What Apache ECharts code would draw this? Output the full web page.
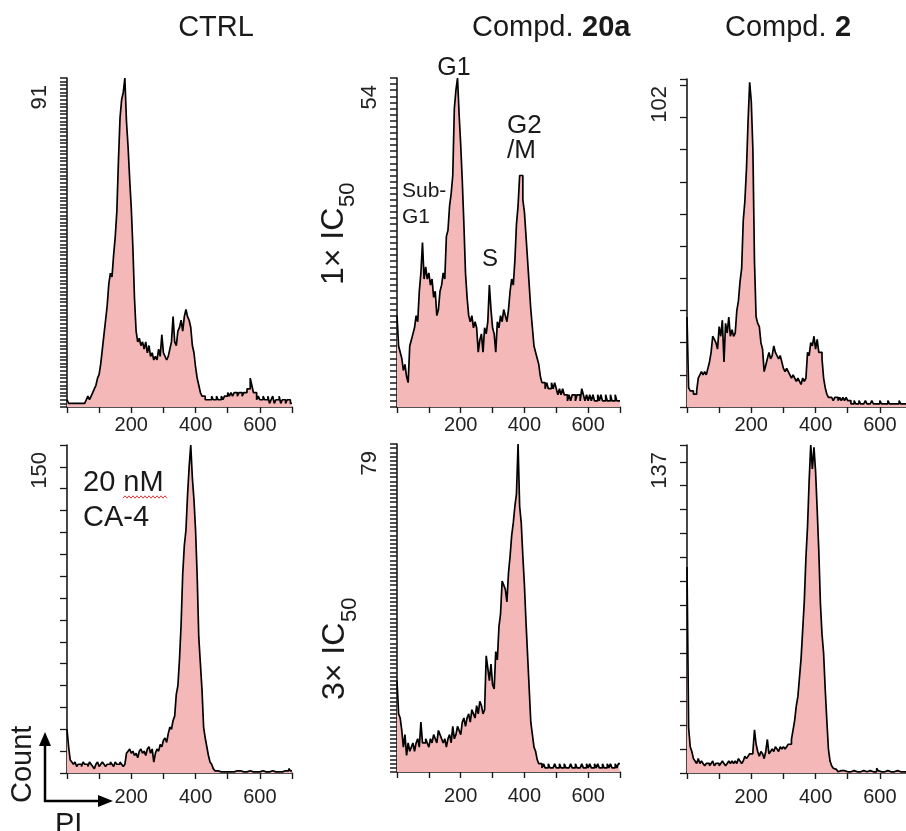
<!DOCTYPE html>
<html><head><meta charset="utf-8">
<script src="https://cdn.jsdelivr.net/npm/echarts@6/dist/echarts.min.js"></script>
<style>html,body{margin:0;padding:0;background:#fff}#c{width:906px;height:831px}</style>
</head><body><div id="c"></div>
<script>
// ---- data: PI histogram counts, 5-unit bins from 0 to 700 ----
const binWidth = 5;
const xMax = 700;
const xTickLabels = [200, 400, 600];

const ctrlCounts = [
2,1,1,0.5,1,0.5,1,0.5,1,0.5,1,1,2,3,2,3,4,5,6,8,
9,12,16,20,24,28,34,37,36,42,47,54,68,80,85,87,91,79,72,63,
55,44,30,21,18,19,17,18,16,18,15,17,14,15,13,14,13,16,14,20,
15,14,13,14,16,18,25,18,17,21,22,24,21,25,27,25,24,22,17,15,
11,8,6,4,3,3,2,2,2,2,3,2,2,3,2,2,3,2,3,3,
4,3,4,3,4,4,3,4,4,3,4,4,5,5,8,6,4,4,2,3,
2,2,3,2,2,3,1,2,3,1,2,2,3,1,2,2,1,2,2,1];

const c20a1xCounts = [
15,10,9,8,6,7,5,4,10,11,12,13,15,14,19,22,27,21,23,21,
22,20,21,18,19,15,16,19,20,22,21,28,29,33,35,38,49,52,54,48,
43,37,30,22,18,15,14,15,13,14,13,9,11,12,9,13,12,14,20,16,
13,12,9,14,13,15,14,16,15,14,16,19,21,20,24,30,33,38,38,34,
32,28,24,20,16,13,10,9,8,7,5,4,4,3,4,3,3,4,3,4,
3,2,3,2,3,2,2,1,2,1,2,2,1,2,2,1,3,2,1,2,
1,2,1,2,1,1,2,1,2,1,1,2,1,1,2,1,1,2,1,1];

const c2_1xCounts = [
28,6,5,5,4,4,5,9,10,11,10,11,10,12,14,17,22,21,20,18,
25,22,27,14,26,23,28,22,24,22,23,30,33,39,43,58,64,74,89,101,
95,80,45,28,26,25,20,18,11,13,15,17,15,16,19,17,16,15,16,14,
12,11,12,11,10,9,10,9,8,9,8,7,9,8,9,17,16,20,19,22,
18,21,17,17,15,9,6,4,3,3,3,2,3,3,2,3,2,3,2,3,
2,2,1,1,2,1,1,2,1,1,1,2,1,1,1,2,1,1,1,1,
2,1,1,1,1,2,1,1,1,1,1,1,2,1,1,1,1,1,1,1];

const ca4Counts = [
20,12,6,5,4,5,3,4,4,3,5,4,4,3,5,4,3,2,4,5,
3,4,5,4,3,4,4,5,4,3,5,4,4,5,4,3,4,9,10,11,
9,10,8,9,7,10,11,9,10,8,11,12,9,11,5,9,11,10,13,12,
15,16,14,18,21,20,24,26,36,40,52,68,91,104,111,127,140,150,135,125,
111,90,62,50,38,21,16,12,8,5,4,2,1,1,1,0.5,1,0.5,1,0.5,
1,0.5,1,0.5,0.5,1,0.5,1,0.5,0.5,1,0.5,0.5,1,0.5,0.5,1,0.5,1,0.5,
0.5,1,0.5,0.5,1,0.5,0.5,1,0.5,0.5,1,0.5,1,0.5,0.5,1,0.5,1,2,1];

const c20a3xCounts = [
22,14,13,10,6,9,4,7,5,6,7,5,7,8,6,12,7,7,8,7,
6,8,7,9,8,7,10,9,8,7,8,6,8,9,7,11,8,9,11,10,
9,12,13,11,13,14,12,15,14,13,16,14,17,16,14,15,28,25,22,26,
21,20,29,27,35,38,46,45,44,41,48,52,57,60,64,67,79,64,60,52,
45,36,28,20,12,9,6,5,3,2,2,1,2,1,1,2,1,1,1,2,
1,1,2,1,1,2,1,1,1,2,1,1,2,1,1,1,2,1,1,2,
1,2,1,1,2,1,2,1,1,2,1,1,2,1,2,1,1,2,1,2];

const c2_3xCounts = [
86,19,11,9,6,5,4,6,4,5,4,3,4,4,3,4,5,3,4,4,
3,4,5,4,3,4,5,4,5,4,5,4,6,5,4,5,7,6,7,8,
8,9,18,12,9,7,9,8,6,9,14,8,9,10,9,11,10,9,11,10,
11,10,11,12,12,14,18,22,28,32,40,48,60,72,90,103,122,137,127,136,
126,110,93,71,58,50,35,22,10,5,3,2,1.5,1,0.5,1,0.5,1,0.5,0.5,
1,0.5,0.5,1,0.5,0.5,1,0.5,0.5,1,0.5,0.5,0.5,1,0.5,0.5,1,0.5,2,1,
0.5,1,0.5,0.5,1,0.5,0.5,1,0.5,0.5,1,0.5,0.5,1,0.5,1,0.5,0.5,1,0.5];

const yMaxValues = [91, 54, 102, 150, 79, 137];
const yTickSteps = [1, 1, 10, 10, 1, 10];

// ---- layout ----
const FONT = "'Liberation Sans', Arial, Helvetica, sans-serif";
const INK = '#1a1a1a';
const panels = [
  {counts: ctrlCounts,   grid: {left: 67,  top: 78,  width: 225, height: 329}, margin: 8},
  {counts: c20a1xCounts, grid: {left: 397, top: 78,  width: 223, height: 329}, margin: 8},
  {counts: c2_1xCounts,  grid: {left: 687, top: 79,  width: 225, height: 328}, margin: 8},
  {counts: ca4Counts,    grid: {left: 67,  top: 445, width: 225, height: 328}, margin: 14},
  {counts: c20a3xCounts, grid: {left: 397, top: 444, width: 223, height: 328}, margin: 14},
  {counts: c2_3xCounts,  grid: {left: 687, top: 445, width: 225, height: 328}, margin: 14}
];

const option = {animation: false, backgroundColor: '#fff', grid: [], xAxis: [], yAxis: [], series: []};
const gfx = [];

panels.forEach((p, i) => {
  const dense = yTickSteps[i] === 1;
  option.grid.push(Object.assign({containLabel: false, outerBoundsMode: 'none'}, p.grid));
  option.xAxis.push({
    type: 'value', gridIndex: i, min: 0, max: xMax, interval: 100,
    axisLine: {show: true, onZero: false, lineStyle: {color: INK, width: 1.6}},
    axisTick: {show: true, length: 6, lineStyle: {color: INK, width: 1.4}},
    axisLabel: {show: true, margin: p.margin, fontSize: 20, fontFamily: FONT, color: '#222',
      formatter: v => xTickLabels.indexOf(v) >= 0 ? String(v) : ''},
    splitLine: {show: false}
  });
  option.yAxis.push({
    type: 'value', gridIndex: i, min: 0, max: yMaxValues[i], interval: yTickSteps[i],
    axisLine: {show: true, onZero: false, lineStyle: {color: INK, width: 1.6}},
    axisTick: {show: true, length: 7, lineStyle: {color: INK, width: dense ? 1.5 : 1.3}},
    axisLabel: {show: false}, splitLine: {show: false}
  });
  const data = p.counts.map((c, k) => [k * binWidth, c]);
  data.push([xMax, p.counts[p.counts.length - 1]]);
  option.series.push({
    type: 'line', xAxisIndex: i, yAxisIndex: i, data: data, step: 'end',
    symbol: 'none', showSymbol: false, silent: true,
    lineStyle: {color: '#000', width: 1.7},
    areaStyle: {color: '#f5b8b8', opacity: 1}
  });
  // rotated max-count label near top of y axis
  gfx.push({
    type: 'text', x: p.grid.left - 27, y: p.grid.top + 7, rotation: Math.PI / 2,
    style: {text: String(yMaxValues[i]), fontSize: 22, fontFamily: FONT, fill: '#222',
      align: 'right', verticalAlign: 'middle'}
  });
});

function txt(text, x, y, size, align, bold, rot) {
  return {type: 'text', x: x, y: y, rotation: rot || 0,
    style: {text: text, fontSize: size, fontFamily: FONT, fontWeight: bold ? 'bold' : 'normal', fill: INK,
      align: align, verticalAlign: 'middle'}};
}

gfx.push(
  txt('CTRL', 216, 28, 29, 'center'),
  txt('Compd. ', 472, 28, 29, 'left'), txt('20a', 582, 28, 29, 'left', true),
  txt('Compd. ', 725, 28, 29, 'left'), txt('2', 835, 28, 29, 'left', true),
  txt('G1', 454, 68, 25, 'center'),
  txt('G2', 507, 126, 26, 'left'), txt('/M', 507, 151, 26, 'left'),
  txt('Sub-', 402, 191, 21, 'left'), txt('G1', 402, 217, 21, 'left'),
  txt('S', 490, 259, 24, 'center'),
  txt('20 nM', 83, 483, 29, 'left'), txt('CA-4', 83, 518, 29, 'left'),
  txt('PI', 55, 825, 29, 'left'),
  // "1x IC50" and "3x IC50", rotated, subscript as separate text
  txt('1\u00d7 IC', 334, 285, 32, 'left', false, Math.PI / 2),
  txt('50', 347.5, 207, 22, 'left', false, Math.PI / 2),
  txt('3\u00d7 IC', 335, 700, 32, 'left', false, Math.PI / 2),
  txt('50', 350, 622, 22, 'left', false, Math.PI / 2),
  txt('Count', 22.5, 803, 29, 'left', false, Math.PI / 2),
  {type: 'line', shape: {x1: 45, y1: 802, x2: 45, y2: 744}, style: {stroke: '#000', lineWidth: 2.5}},
  {type: 'polygon', shape: {points: [[45, 732], [39, 746], [51, 746]]}, style: {fill: '#000'}},
  {type: 'line', shape: {x1: 44, y1: 801, x2: 99, y2: 801}, style: {stroke: '#000', lineWidth: 2.5}},
  {type: 'polygon', shape: {points: [[113, 801], [98, 795], [98, 807]]}, style: {fill: '#000'}}
);
// red wavy spell-check underline under "nM"
const wave = [];
for (let x = 123, k = 0; x <= 167; x += 2, k++) wave.push([x, 497 + (k % 2 ? -1.2 : 1.2)]);
gfx.push({type: 'polyline', shape: {points: wave}, style: {stroke: '#e03a3a', lineWidth: 1, fill: null}});

const chart = echarts.init(document.getElementById('c'), null, {renderer: 'canvas'});
chart.setOption(option);
chart.setOption({graphic: {elements: gfx}});
</script>
</body></html>
